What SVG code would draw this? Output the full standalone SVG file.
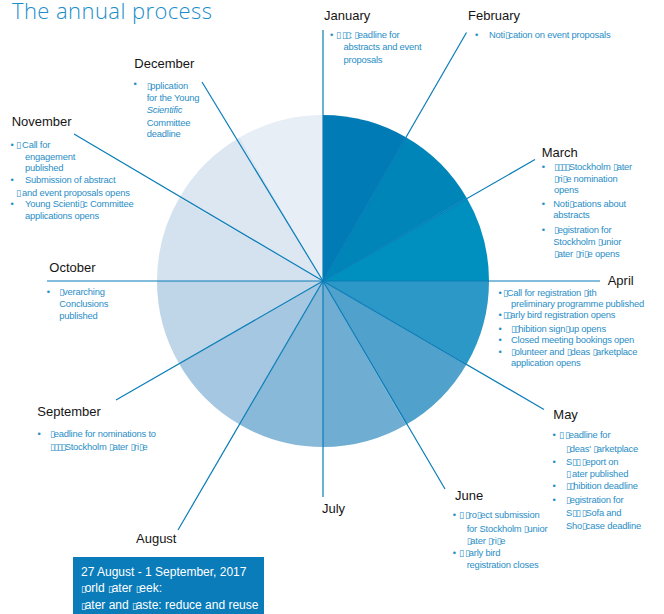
<svg xmlns="http://www.w3.org/2000/svg" width="664" height="614" viewBox="0 0 664 614">
<style>
.title{font-family:"Open Sans","Liberation Sans",sans-serif;font-weight:300;font-size:22px;fill:#1B8DC9}
.m{font-family:"Liberation Sans",Arial,sans-serif;font-size:13px;fill:#151515}
.t{font-family:"Liberation Sans","DejaVu Sans",Arial,sans-serif;font-size:9.4px;letter-spacing:-0.2px;fill:#2A8EC6}
.x{font-family:"DejaVu Sans",sans-serif;font-size:9px;letter-spacing:-1.3px}
.w{font-family:"Liberation Sans","DejaVu Sans",Arial,sans-serif;font-size:12px;fill:#ffffff;letter-spacing:0}
.ln{stroke:#0A7DB8;stroke-width:1.2;fill:none}
</style>
<text class="title" x="12" y="19" textLength="200">The annual process</text>

<g id="pie">
<path d="M323,281 L323,115 A166,166 0 0 1 406,137.24 Z" fill="#007BB5"/>
<path d="M323,281 L406,137.24 A166,166 0 0 1 466.76,198 Z" fill="#0085B8"/>
<path d="M323,281 L466.76,198 A166,166 0 0 1 489,281 Z" fill="#0090BF"/>
<path d="M323,281 L489,281 A166,166 0 0 1 466.76,364 Z" fill="#2C98C7"/>
<path d="M323,281 L466.76,364 A166,166 0 0 1 406,424.76 Z" fill="#50A1CC"/>
<path d="M323,281 L406,424.76 A166,166 0 0 1 323,447 Z" fill="#6FADD3"/>
<path d="M323,281 L323,447 A166,166 0 0 1 240,424.76 Z" fill="#88B9D9"/>
<path d="M323,281 L240,424.76 A166,166 0 0 1 179.24,364 Z" fill="#A5C7E1"/>
<path d="M323,281 L179.24,364 A166,166 0 0 1 157,281 Z" fill="#BFD5E8"/>
<path d="M323,281 L157,281 A166,166 0 0 1 179.24,198 Z" fill="#D4E2EF"/>
<path d="M323,281 L179.24,198 A166,166 0 0 1 240,137.24 Z" fill="#DCE7F2"/>
<path d="M323,281 L240,137.24 A166,166 0 0 1 323,115 Z" fill="#E7EEF6"/>
</g>

<g id="connectors">
<line class="ln" x1="323" y1="30" x2="323" y2="497"/>
<line class="ln" x1="47" y1="281" x2="600" y2="281"/>
<line class="ln" x1="323" y1="281" x2="466.5" y2="32.5"/>
<line class="ln" x1="323" y1="281" x2="535" y2="159.5"/>
<line class="ln" x1="323" y1="281" x2="544" y2="409.5"/>
<line class="ln" x1="323" y1="281" x2="445" y2="489"/>
<line class="ln" x1="323" y1="281" x2="178" y2="530"/>
<line class="ln" x1="323" y1="281" x2="116" y2="400"/>
<line class="ln" x1="323" y1="281" x2="74" y2="134"/>
<line class="ln" x1="323" y1="281" x2="202" y2="82"/>
</g>

<g id="january">
<text class="m" x="324" y="20">January</text>
<text class="t" x="330" y="38">•</text>
<text class="t" x="336" y="38"><tspan class="x">▯</tspan> <tspan class="x">▯▯</tspan>: <tspan class="x">▯</tspan>eadline for</text>
<text class="t" x="343.5" y="50.3">abstracts and event</text>
<text class="t" x="343.5" y="62.6">proposals</text>
</g>

<g id="february">
<text class="m" x="468" y="20">February</text>
<text class="t" x="475" y="38">•</text>
<text class="t" x="489" y="38">Noti<tspan class="x">▯</tspan>cation on event proposals</text>
</g>

<g id="march">
<text class="m" x="541.7" y="157">March</text>
<text class="t" x="541.7" y="170">•</text>
<text class="t" x="554" y="170"><tspan class="x">▯▯▯▯</tspan>Stockholm <tspan class="x">▯</tspan>ater</text>
<text class="t" x="554" y="181.8"><tspan class="x">▯</tspan>ri<tspan class="x">▯</tspan>e nomination</text>
<text class="t" x="554" y="193.4">opens</text>
<text class="t" x="541.7" y="206.5">•</text>
<text class="t" x="553.3" y="206.5">Noti<tspan class="x">▯</tspan>cations about</text>
<text class="t" x="553.3" y="218.2">abstracts</text>
<text class="t" x="541.7" y="233.3">•</text>
<text class="t" x="554" y="233.3"><tspan class="x">▯</tspan>egistration for</text>
<text class="t" x="553.3" y="244.8">Stockholm <tspan class="x">▯</tspan>unior</text>
<text class="t" x="554" y="256.6"><tspan class="x">▯</tspan>ater <tspan class="x">▯</tspan>ri<tspan class="x">▯</tspan>e opens</text>
</g>

<g id="april">
<text class="m" x="607.7" y="285">April</text>
<text class="t" x="498.4" y="296">•</text>
<text class="t" x="503" y="296"><tspan class="x">▯</tspan>Call for registration <tspan class="x">▯</tspan>ith</text>
<text class="t" x="511" y="306.8">preliminary programme published</text>
<text class="t" x="498.4" y="317.8">•</text>
<text class="t" x="503" y="317.8"><tspan class="x">▯▯</tspan>arly bird registration opens</text>
<text class="t" x="498.4" y="331.5">•</text>
<text class="t" x="511" y="331.5"><tspan class="x">▯▯</tspan>hibition sign<tspan class="x">▯</tspan>up opens</text>
<text class="t" x="498.4" y="343.3">•</text>
<text class="t" x="511" y="343.3">Closed meeting bookings open</text>
<text class="t" x="498.4" y="354.5">•</text>
<text class="t" x="511" y="354.5"><tspan class="x">▯</tspan>olunteer and <tspan class="x">▯</tspan>deas <tspan class="x">▯</tspan>arketplace</text>
<text class="t" x="511" y="366.3">application opens</text>
</g>

<g id="may">
<text class="m" x="553.3" y="419">May</text>
<text class="t" x="552.4" y="437.7">•</text>
<text class="t" x="559" y="437.7"><tspan class="x">▯</tspan> <tspan class="x">▯</tspan>eadline for</text>
<text class="t" x="566" y="452.2"><tspan class="x">▯</tspan>deas' <tspan class="x">▯</tspan>arketplace</text>
<text class="t" x="552.4" y="464.8">•</text>
<text class="t" x="566" y="464.8">S<tspan class="x">▯▯</tspan> <tspan class="x">▯</tspan>eport on</text>
<text class="t" x="566" y="476.8"><tspan class="x">▯</tspan> ater published</text>
<text class="t" x="552.4" y="489.3">•</text>
<text class="t" x="566" y="489.3"><tspan class="x">▯▯</tspan>hibition deadline</text>
<text class="t" x="552.4" y="503.3">•</text>
<text class="t" x="566" y="503.3"><tspan class="x">▯</tspan>egistration for</text>
<text class="t" x="566" y="516.3">S<tspan class="x">▯▯</tspan> <tspan class="x">▯</tspan>Sofa and</text>
<text class="t" x="566" y="528.5">Sho<tspan class="x">▯</tspan>case deadline</text>
</g>

<g id="june">
<text class="m" x="455" y="500">June</text>
<text class="t" x="452.7" y="518.3">•</text>
<text class="t" x="459" y="518.3"><tspan class="x">▯</tspan> <tspan class="x">▯</tspan>ro<tspan class="x">▯</tspan>ect submission</text>
<text class="t" x="466.7" y="531.5">for Stockholm <tspan class="x">▯</tspan>unior</text>
<text class="t" x="466.7" y="544.3"><tspan class="x">▯</tspan>ater <tspan class="x">▯</tspan>ri<tspan class="x">▯</tspan>e</text>
<text class="t" x="452.7" y="556">•</text>
<text class="t" x="459" y="556"><tspan class="x">▯</tspan> <tspan class="x">▯</tspan>arly bird</text>
<text class="t" x="466.7" y="568.3">registration closes</text>
</g>

<g id="july">
<text class="m" x="322" y="513">July</text>
</g>

<g id="august">
<text class="m" x="136" y="543.3">August</text>
<rect x="73" y="557" width="191" height="57" fill="#0A7CB9"/>
<text class="w" x="81" y="575.5">27 August - 1 September, 2017</text>
<text class="w" x="81" y="592"><tspan class="x">▯</tspan>orld <tspan class="x">▯</tspan>ater <tspan class="x">▯</tspan>eek:</text>
<text class="w" x="81" y="608.5"><tspan class="x">▯</tspan>ater and <tspan class="x">▯</tspan>aste: reduce and reuse</text>
</g>

<g id="september">
<text class="m" x="37.3" y="415.7">September</text>
<text class="t" x="37.4" y="437.3">•</text>
<text class="t" x="50" y="437.3"><tspan class="x">▯</tspan>eadline for nominations to</text>
<text class="t" x="50" y="450"><tspan class="x">▯▯▯▯</tspan>Stockholm <tspan class="x">▯</tspan>ater <tspan class="x">▯</tspan>ri<tspan class="x">▯</tspan>e</text>
</g>

<g id="october">
<text class="m" x="49.3" y="272.3">October</text>
<text class="t" x="46.7" y="295.3">•</text>
<text class="t" x="59.3" y="295.3"><tspan class="x">▯</tspan>verarching</text>
<text class="t" x="59.3" y="307">Conclusions</text>
<text class="t" x="59.3" y="319">published</text>
</g>

<g id="november">
<text class="m" x="11.7" y="126">November</text>
<text class="t" x="10.4" y="147.7">•</text>
<text class="t" x="16" y="147.7"><tspan class="x">▯</tspan> Call for</text>
<text class="t" x="25" y="160">engagement</text>
<text class="t" x="25" y="170.8">published</text>
<text class="t" x="10.4" y="182.7">•</text>
<text class="t" x="25" y="182.7">Submission of abstract</text>
<text class="t" x="16" y="195.5"><tspan class="x">▯</tspan> and event proposals opens</text>
<text class="t" x="10.4" y="207.3">•</text>
<text class="t" x="25" y="207.3">Young Scienti<tspan class="x">▯</tspan>c Committee</text>
<text class="t" x="25" y="219.3">applications opens</text>
</g>

<g id="december">
<text class="m" x="134.3" y="68.3">December</text>
<text class="t" x="133.4" y="87">•</text>
<text class="t" x="146.7" y="89"><tspan class="x">▯</tspan>pplication</text>
<text class="t" x="146.7" y="101">for the Young</text>
<text class="t" x="146.7" y="113.3" font-style="italic">Scientific</text>
<text class="t" x="146.7" y="125.5">Committee</text>
<text class="t" x="146.7" y="137.3">deadline</text>
</g>
</svg>
